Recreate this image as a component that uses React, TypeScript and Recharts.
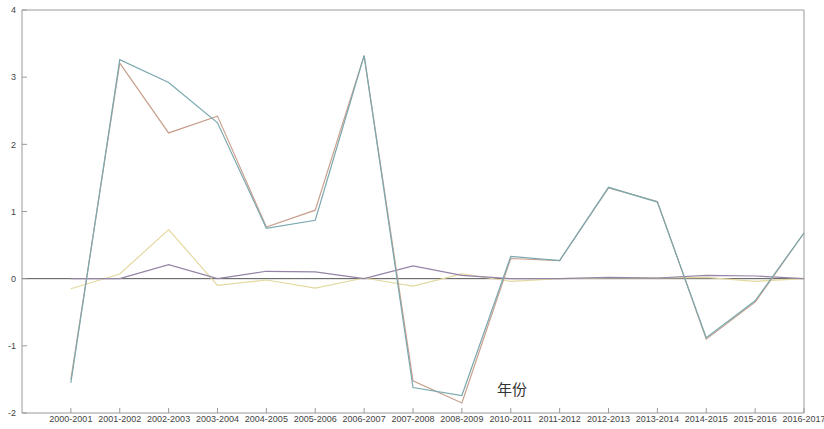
import { LineChart, Line, XAxis, YAxis, ReferenceLine } from "recharts";

const categories = [
  "2000-2001", "2001-2002", "2002-2003", "2003-2004", "2004-2005", "2005-2006",
  "2006-2007", "2007-2008", "2008-2009", "2010-2011", "2011-2012", "2012-2013",
  "2013-2014", "2014-2015", "2015-2016", "2016-2017",
];
const seriesTeal = [-1.55, 3.26, 2.92, 2.32, 0.75, 0.87, 3.32, -1.62, -1.74, 0.33, 0.27, 1.36, 1.14, -0.88, -0.33, 0.68];
const seriesOrange = [-1.5, 3.21, 2.17, 2.42, 0.77, 1.02, 3.32, -1.52, -1.85, 0.3, 0.27, 1.35, 1.15, -0.9, -0.35, 0.68];
const seriesYellow = [-0.15, 0.07, 0.73, -0.1, -0.02, -0.14, 0.01, -0.11, 0.07, -0.04, 0.0, 0.01, 0.01, 0.02, -0.04, 0.0];
const seriesPurple = [0.0, 0.0, 0.21, 0.0, 0.11, 0.1, 0.0, 0.19, 0.05, 0.0, 0.0, 0.02, 0.01, 0.05, 0.04, 0.0];
const yTicks = [-2, -1, 0, 1, 2, 3, 4];

const xTicks = categories.map((_, i) => i + 1);
const data = categories.map((c, i) => ({
  idx: i + 1,
  label: c,
  teal: seriesTeal[i],
  orange: seriesOrange[i],
  yellow: seriesYellow[i],
  purple: seriesPurple[i],
}));

const axisColor = "#9a9a9a";
const tickFont = { fontSize: 9, fill: "#444", fontFamily: "Liberation Sans, Arial, sans-serif" };

export default function App() {
  return (
    <div style={{ position: "absolute", left: 0, top: 0, width: 824, height: 429, background: "#fff" }}>
      <LineChart width={824} height={429} data={data} margin={{ top: 0, right: 0, bottom: 0, left: 0 }}>
        <XAxis
          xAxisId="bottom"
          type="number"
          dataKey="idx"
          domain={[0, 16]}
          ticks={xTicks}
          interval={0}
          tickFormatter={(v: number) => categories[v - 1] ?? ""}
          height={16}
          tickSize={-5}
          tickMargin={8}
          stroke={axisColor}
          tick={tickFont}
        />
        <XAxis
          xAxisId="top"
          orientation="top"
          type="number"
          dataKey="idx"
          domain={[0, 16]}
          ticks={xTicks}
          height={10}
          tickSize={-5}
          tick={false}
          stroke={axisColor}
        />
        <YAxis
          yAxisId="left"
          domain={[-2, 4]}
          ticks={yTicks}
          width={22}
          tickSize={-5}
          tickMargin={11}
          stroke={axisColor}
          tick={tickFont}
        />
        <YAxis
          yAxisId="right"
          orientation="right"
          domain={[-2, 4]}
          ticks={yTicks}
          width={20}
          tickSize={-5}
          tick={false}
          stroke={axisColor}
        />
        <ReferenceLine xAxisId="bottom" yAxisId="left" y={0} stroke="#555" strokeWidth={1} />
        <Line xAxisId="bottom" yAxisId="left" type="linear" dataKey="yellow" stroke="#e3d9a0" strokeWidth={1.2} dot={false} isAnimationActive={false} />
        <Line xAxisId="bottom" yAxisId="left" type="linear" dataKey="purple" stroke="#9484a6" strokeWidth={1.2} dot={false} isAnimationActive={false} />
        <Line xAxisId="bottom" yAxisId="left" type="linear" dataKey="orange" stroke="#c9a08e" strokeWidth={1.2} dot={false} isAnimationActive={false} />
        <Line xAxisId="bottom" yAxisId="left" type="linear" dataKey="teal" stroke="#7aa8ae" strokeWidth={1.2} dot={false} isAnimationActive={false} />
      </LineChart>
      <div
        style={{
          position: "absolute",
          left: 497,
          top: 378,
          fontSize: 15,
          color: "#333",
          fontFamily: "Noto Sans CJK SC, sans-serif",
        }}
      >
        年份
      </div>
    </div>
  );
}
